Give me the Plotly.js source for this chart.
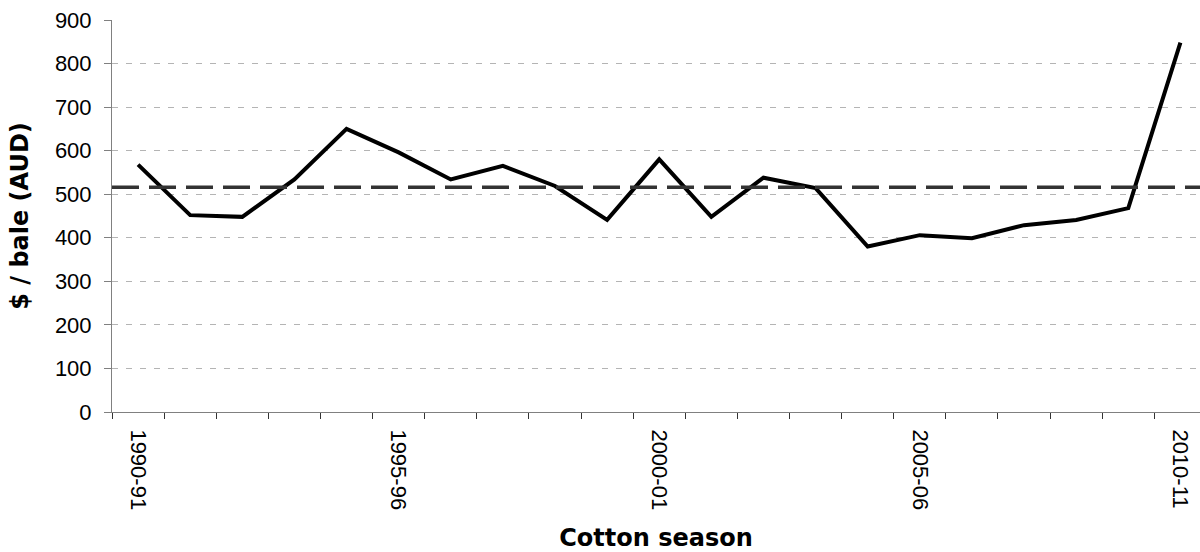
<!DOCTYPE html>
<html>
<head>
<meta charset="utf-8">
<script src="https://cdn.plot.ly/plotly-3.0.1.min.js"></script>
<style>
html,body{margin:0;padding:0;background:#fff;overflow:hidden;}
#chart{width:1200px;height:552px;}
</style>
</head>
<body>
<div id="chart"></div>
<script>
// Cotton seasons (x categories)
const seasons = ["1990-91","1991-92","1992-93","1993-94","1994-95","1995-96","1996-97","1997-98","1998-99","1999-00",
                 "2000-01","2001-02","2002-03","2003-04","2004-05","2005-06","2006-07","2007-08","2008-09","2009-10","2010-11"];
// Price in $ / bale (AUD)
const pricePerBale = [568,452,448,534,650,596,534,565,519,441,580,448,538,514,380,406,399,429,441,468,848];
// Long-run average price (dashed reference line)
const averagePrice = 516;
// Tick labels shown on the x axis
const labelledSeasons = ["1990-91","1995-96","2000-01","2005-06","2010-11"];

const trace = {
  type: "scatter",
  mode: "lines",
  x: seasons,
  y: pricePerBale,
  line: {color: "#000000", width: 4},
  hoverinfo: "x+y",
  showlegend: false
};

const tickFont = {family: "Liberation Sans, Arial, sans-serif", size: 22, color: "#000"};
const titleFont = {family: "DejaVu Sans, Verdana, sans-serif", size: 24, color: "#000", weight: "bold"};

const layout = {
  width: 1200,
  height: 552,
  margin: {l: 112, r: 0, t: 20, b: 140, pad: 0},
  paper_bgcolor: "#ffffff",
  plot_bgcolor: "#ffffff",
  showlegend: false,
  xaxis: {
    type: "category",
    range: [-0.5, 20.376],
    tickmode: "array",
    tickvals: seasons,
    ticktext: seasons.map(s => labelledSeasons.includes(s) ? s : ""),
    tickson: "boundaries",
    ticks: "outside",
    ticklen: 6,
    tickwidth: 1,
    tickcolor: "#333333",
    tickangle: 90,
    tickfont: tickFont,
    ticklabelstandoff: 12,
    showline: true,
    linecolor: "#808080",
    linewidth: 1,
    showgrid: false,
    zeroline: false,
    automargin: false,
    title: {
      text: "Cotton season",
      font: titleFont,
      standoff: 22
    }
  },
  yaxis: {
    range: [0, 900],
    tickmode: "linear",
    tick0: 0,
    dtick: 100,
    ticks: "outside",
    ticklen: 7,
    tickwidth: 1,
    tickcolor: "#808080",
    tickfont: tickFont,
    ticklabelstandoff: 8,
    showline: true,
    linecolor: "#808080",
    linewidth: 1,
    showgrid: true,
    gridcolor: "#b4b4b4",
    gridwidth: 1,
    griddash: "6px,8px",
    zeroline: false,
    automargin: false,
    title: {
      text: "$ / bale (AUD)",
      font: titleFont,
      standoff: 19
    }
  },
  shapes: [{
    type: "line",
    xref: "paper", x0: 0, x1: 1,
    yref: "y", y0: averagePrice, y1: averagePrice,
    line: {color: "#333333", width: 3.5, dash: "27px,10px"},
    layer: "above"
  }]
};

Plotly.newPlot("chart", [trace], layout, {displayModeBar: false, staticPlot: true});
</script>
</body>
</html>
